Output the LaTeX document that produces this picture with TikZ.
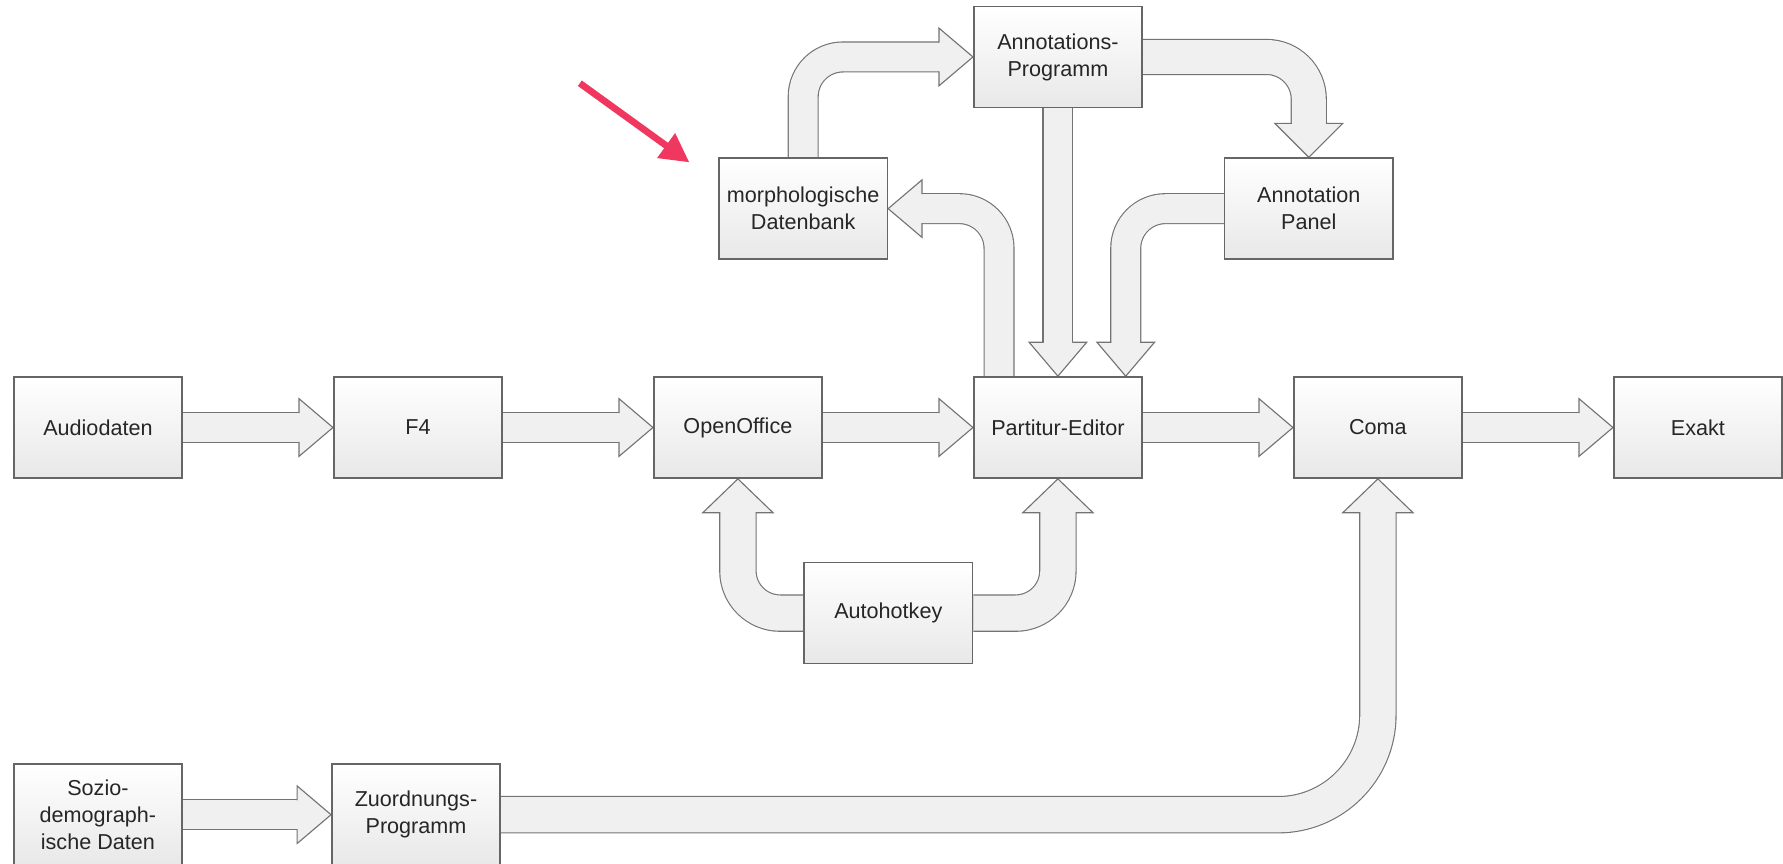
\documentclass[tikz,border=0pt]{standalone}
\usepackage{fontspec}
\newfontfamily\boxfont{Liberation Sans}
\usetikzlibrary{calc,arrows.meta,backgrounds}
\definecolor{pointer}{HTML}{F0375F}
\tikzset{
    box/.style={draw=gray!80!black, line width=0.7pt, top color=white, bottom color=gray!18,
        minimum width=2.63cm, minimum height=1.58cm, align=center, text=black!85,
        font=\boxfont\fontsize{9.6}{12}\selectfont},
    shaft/.style={draw=gray!90!black, line width=0.5pt, double=gray!12, double distance=#1},
    pics/head/.style args={#1/#2}{code={
        \fill[gray!12] (0,0) -- (-0.53,#2) -- (-0.53,-#2) -- cycle;
        \draw[gray!90!black, line width=0.5pt] (-0.53,#1) -- (-0.53,#2) -- (0,0) -- (-0.53,-#2) -- (-0.53,-#1);
    }}
}
\begin{document}
\begin{tikzpicture}
    \useasboundingbox (0,0) rectangle (27.86,-13.5);

    % Main row
    \foreach \n/\t [count=\i from 0] in {aud/Audiodaten, f4/F4, open/OpenOffice, partitur/Partitur-Editor, coma/Coma, exakt/Exakt} {
        \node[box] (\n) at (1.53+5*\i, -6.68) {\t};
    }

    % Upper and lower boxes
    \node[box] (morph) at (12.55,-3.26) {morphologische\\Datenbank};
    \node[box] (annprog) at (16.53,-0.89) {Annotations-\\Programm};
    \node[box] (panel) at (20.45,-3.26) {Annotation\\Panel};
    \node[box] (auto) at (13.88,-9.58) {Autohotkey};
    \node[box] (sozio) at (1.53,-12.73) {Sozio-\\demograph-\\ische Daten};
    \node[box] (zuord) at (6.5,-12.73) {Zuordnungs-\\Programm};

    \begin{scope}[on background layer]
        % Straight arrows
        \foreach \a/\b in {aud/f4, f4/open, open/partitur, partitur/coma, coma/exakt, sozio/zuord} {
            \draw[shaft=0.45cm] (\a.east) -- ($(\b.west)+(-0.48,0)$);
            \pic at (\b.west) {head=0.225/0.45};
        }

        % Bent arrows
        \draw[shaft=0.45cm, rounded corners=0.62cm] (morph.north) |- ($(annprog.west)+(-0.48,0)$);
        \pic at (annprog.west) {head=0.225/0.45};
        \draw[shaft=0.45cm, rounded corners=0.62cm] ($(partitur.north)+(-0.92,0)$) |- ($(morph.east)+(0.48,0)$);
        \pic[rotate=180] at (morph.east) {head=0.225/0.45};
        \draw[shaft=0.45cm] (annprog.south) -- ($(partitur.north)+(0,0.48)$);
        \pic[rotate=-90] at (partitur.north) {head=0.225/0.45};
        \draw[shaft=0.53cm, rounded corners=0.66cm] (annprog.east) -| ($(panel.north)+(0,0.48)$);
        \pic[rotate=-90] at (panel.north) {head=0.265/0.53};
        \draw[shaft=0.45cm, rounded corners=0.62cm] (panel.west) -| ($(partitur.north)+(1.06,0.48)$);
        \pic[rotate=-90] at ($(partitur.north)+(1.06,0)$) {head=0.225/0.45};

        % Autohotkey and Coma
        \draw[shaft=0.55cm, rounded corners=0.66cm] (auto.west) -| ($(open.south)+(0,-0.48)$);
        \pic[rotate=90] at (open.south) {head=0.275/0.55};
        \draw[shaft=0.55cm, rounded corners=0.66cm] (auto.east) -| ($(partitur.south)+(0,-0.48)$);
        \pic[rotate=90] at (partitur.south) {head=0.275/0.55};
        \draw[shaft=0.55cm, rounded corners=1.56cm] (zuord.east) -| ($(coma.south)+(0,-0.48)$);
        \pic[rotate=90] at (coma.south) {head=0.275/0.55};
    \end{scope}

    % Pointer
    \coordinate (pointtail) at (9.06,-1.30);
    \coordinate (pointtip) at ($(morph.north west)+(-0.45,-0.08)$);
    \draw[pointer, line width=3pt, -{Triangle[length=0.45cm, width=0.45cm]}] (pointtail) -- (pointtip);
\end{tikzpicture}
\end{document}
